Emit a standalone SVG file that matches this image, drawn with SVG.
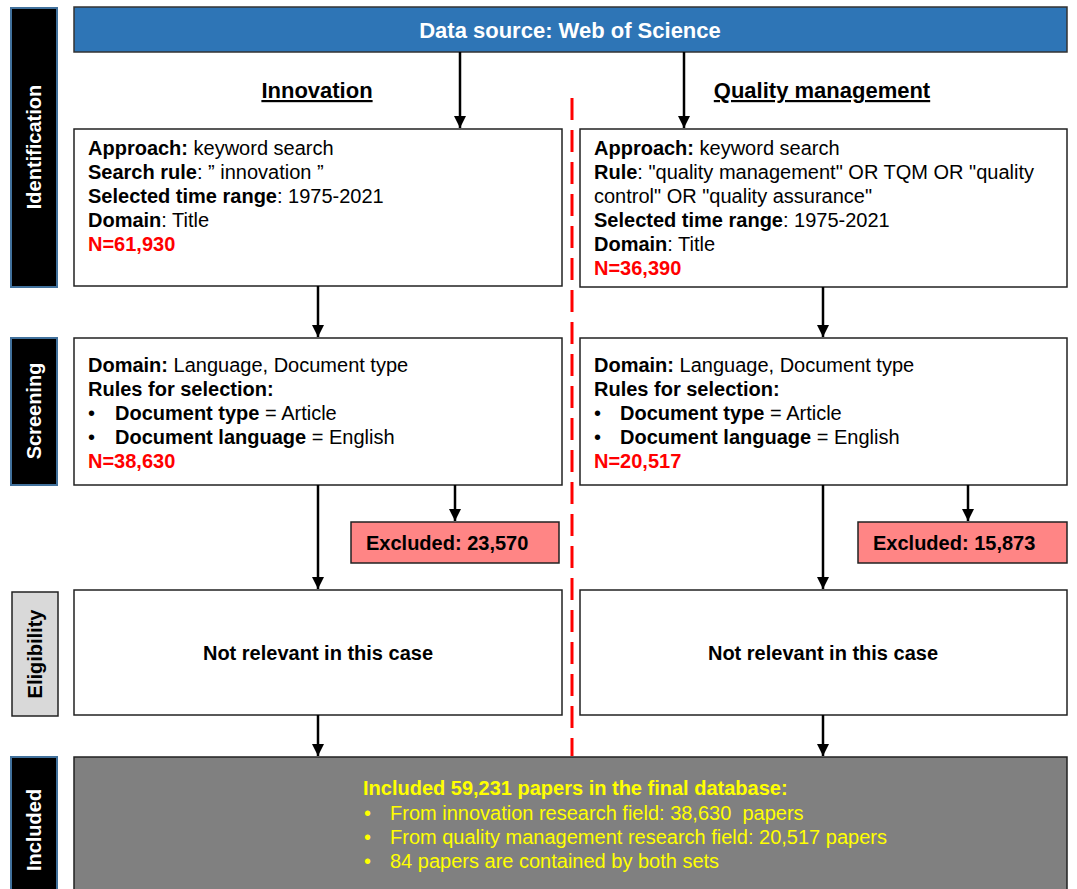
<svg xmlns="http://www.w3.org/2000/svg" width="1077" height="889" viewBox="0 0 1077 889">
<defs>
<marker id="ah" viewBox="0 0 10 10" refX="10" refY="5" markerWidth="5" markerHeight="5" orient="auto" markerUnits="strokeWidth">
<path d="M0,0 L10,5 L0,10 z" fill="#000"/>
</marker>
<style>
text{font-family:"Liberation Sans",Arial,sans-serif;}
.side{fill:#000;stroke:#41719c;stroke-width:2;}
.sidet{fill:#fff;font-size:20px;font-weight:bold;text-anchor:middle;}
.box{fill:#fff;stroke:#222;stroke-width:1.5;}
.t{font-size:20px;fill:#000;}
.b{font-weight:bold;}
.n{font-weight:bold;fill:#ff0000;}
.exc{fill:#ff8585;stroke:#222;stroke-width:1.5;}
.conn line{stroke:#000;stroke-width:2.5;marker-end:url(#ah);}
.yl{font-size:20px;fill:#ffff00;}
</style>
</defs>
<rect width="1077" height="889" fill="#fff"/>

<g id="label-identification">
<rect class="side" x="11" y="8" width="46" height="279"/>
<text class="sidet" transform="translate(41,147) rotate(-90)">Identification</text>
</g>
<g id="label-screening">
<rect class="side" x="11" y="338" width="46" height="147"/>
<text class="sidet" transform="translate(41,411) rotate(-90)">Screening</text>
</g>
<g id="label-eligibility">
<rect x="12" y="592" width="46" height="124" fill="#d9d9d9" stroke="#222" stroke-width="1.5"/>
<text class="sidet" style="fill:#000" transform="translate(42,654) rotate(-90)">Eligibility</text>
</g>
<g id="label-included">
<rect class="side" x="11" y="757" width="46" height="140"/>
<text class="sidet" transform="translate(41,830) rotate(-90)">Included</text>
</g>

<g id="datasource">
<rect x="74" y="7" width="993" height="45" fill="#2e75b6" stroke="#333" stroke-width="1.5"/>
<text x="570" y="38" font-size="22" font-weight="bold" fill="#fff" text-anchor="middle">Data source: Web of Science</text>
</g>

<g id="heading-innovation">
<text x="317" y="98" font-size="22" font-weight="bold" text-anchor="middle" text-decoration="underline">Innovation</text>
</g>
<g id="heading-quality">
<text x="822" y="98" font-size="22" font-weight="bold" text-anchor="middle" text-decoration="underline">Quality management</text>
</g>

<g id="divider">
<line x1="572" y1="98" x2="572" y2="756" stroke="#ff0000" stroke-width="3" stroke-dasharray="22,10"/>
</g>

<g id="id-innovation">
<rect class="box" x="74" y="129" width="488" height="157"/>
<text class="t" x="88" y="155"><tspan class="b">Approach:</tspan> keyword search</text>
<text class="t" x="88" y="179"><tspan class="b">Search rule</tspan>: ” innovation ”</text>
<text class="t" x="88" y="203"><tspan class="b">Selected time range</tspan>: 1975-2021</text>
<text class="t" x="88" y="227"><tspan class="b">Domain</tspan>: Title</text>
<text class="t n" x="88" y="251">N=61,930</text>
</g>

<g id="id-quality">
<rect class="box" x="580" y="129" width="487" height="158"/>
<text class="t" x="594" y="155"><tspan class="b">Approach:</tspan> keyword search</text>
<text class="t" x="594" y="179"><tspan class="b">Rule</tspan>: "quality management" OR TQM OR "quality</text>
<text class="t" x="594" y="203">control" OR "quality assurance"</text>
<text class="t" x="594" y="227"><tspan class="b">Selected time range</tspan>: 1975-2021</text>
<text class="t" x="594" y="251"><tspan class="b">Domain</tspan>: Title</text>
<text class="t n" x="594" y="275">N=36,390</text>
</g>

<g id="scr-innovation">
<rect class="box" x="74" y="338" width="488" height="147"/>
<text class="t" x="88" y="372"><tspan class="b">Domain:</tspan> Language, Document type</text>
<text class="t b" x="88" y="396">Rules for selection:</text>
<text class="t" x="88" y="420">•</text>
<text class="t" x="115" y="420"><tspan class="b">Document type</tspan> = Article</text>
<text class="t" x="88" y="444">•</text>
<text class="t" x="115" y="444"><tspan class="b">Document language</tspan> = English</text>
<text class="t n" x="88" y="468">N=38,630</text>
</g>

<g id="scr-quality">
<rect class="box" x="580" y="338" width="487" height="147"/>
<text class="t" x="594" y="372"><tspan class="b">Domain:</tspan> Language, Document type</text>
<text class="t b" x="594" y="396">Rules for selection:</text>
<text class="t" x="594" y="420">•</text>
<text class="t" x="620" y="420"><tspan class="b">Document type</tspan> = Article</text>
<text class="t" x="594" y="444">•</text>
<text class="t" x="620" y="444"><tspan class="b">Document language</tspan> = English</text>
<text class="t n" x="594" y="468">N=20,517</text>
</g>

<g id="excl-innovation">
<rect class="exc" x="351" y="522" width="208" height="41"/>
<text class="t b" x="366" y="550">Excluded: 23,570</text>
</g>
<g id="excl-quality">
<rect class="exc" x="858" y="522" width="209" height="41"/>
<text class="t b" x="873" y="550">Excluded: 15,873</text>
</g>

<g id="elig-innovation">
<rect class="box" x="74" y="590" width="488" height="125"/>
<text class="t b" x="318" y="660" text-anchor="middle">Not relevant in this case</text>
</g>
<g id="elig-quality">
<rect class="box" x="580" y="590" width="487" height="125"/>
<text class="t b" x="823" y="660" text-anchor="middle">Not relevant in this case</text>
</g>

<g id="included">
<rect x="74" y="757" width="993" height="140" fill="#808080" stroke="#222" stroke-width="1.5"/>
<text class="yl b" x="363" y="795">Included 59,231 papers in the final database:</text>
<text class="yl" x="364" y="820">•</text>
<text class="yl" x="390" y="820" xml:space="preserve">From innovation research field: 38,630  papers</text>
<text class="yl" x="364" y="844">•</text>
<text class="yl" x="390" y="844">From quality management research field: 20,517 papers</text>
<text class="yl" x="364" y="868">•</text>
<text class="yl" x="390" y="868">84 papers are contained by both sets</text>
</g>

<g class="conn" id="connectors">
<line x1="460" y1="52" x2="460" y2="128"/>
<line x1="684" y1="52" x2="684" y2="128"/>
<line x1="318" y1="286" x2="318" y2="337"/>
<line x1="823" y1="287" x2="823" y2="337"/>
<line x1="318" y1="485" x2="318" y2="589"/>
<line x1="823" y1="485" x2="823" y2="589"/>
<line x1="455" y1="485" x2="455" y2="521"/>
<line x1="968" y1="485" x2="968" y2="521"/>
<line x1="318" y1="715" x2="318" y2="756"/>
<line x1="823" y1="715" x2="823" y2="756"/>
</g>
</svg>
